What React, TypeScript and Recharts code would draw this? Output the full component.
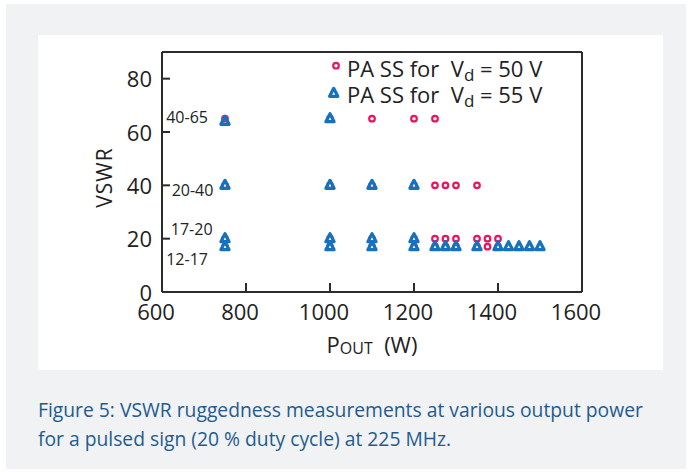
import React from 'react';
import { ScatterChart, Scatter, XAxis, YAxis, ReferenceLine, ReferenceDot, Legend } from 'recharts';

// VSWR levels tested, and the output powers that passed at each level
const vd50Row65 = [750, 1000, 1100, 1200, 1250];
const vd50Row40 = [750, 1000, 1100, 1200, 1250, 1275, 1300, 1350];
const vd50Row20 = [750, 1000, 1100, 1200, 1250, 1275, 1300, 1350, 1375, 1400];
const vd50Row17 = [750, 1000, 1100, 1200, 1250, 1275, 1300, 1350, 1375, 1400];

const vd55Row65 = [750, 1000];
const vd55Row40 = [750, 1000, 1100, 1200];
const vd55Row20 = [750, 1000, 1100, 1200];
const vd55Row17 = [750, 1000, 1100, 1200, 1250, 1275, 1300, 1350, 1400, 1425, 1450, 1475, 1500];

const vd50Points = [
  ...vd50Row65.map((p) => ({ p, v: 65 })),
  ...vd50Row40.map((p) => ({ p, v: 40 })),
  ...vd50Row20.map((p) => ({ p, v: 20 })),
  ...vd50Row17.map((p) => ({ p, v: 17 })),
];
const vd55Points = [
  ...vd55Row65.map((p) => ({ p, v: p === 750 ? 64 : 65 })),
  ...vd55Row40.map((p) => ({ p, v: 40 })),
  ...vd55Row20.map((p) => ({ p, v: 20 })),
  ...vd55Row17.map((p) => ({ p, v: 17 })),
];

const xTicks = [600, 800, 1000, 1200, 1400, 1600];
const yTicks = [0, 20, 40, 60, 80];

// range annotations (text baseline, in data units)
const rangeLabels = ['40-65', '20-40', '17-20', '12-17'];
const rangeLabelP = [610, 623, 621, 610];
const rangeLabelV = [63.2, 35.9, 21.5, 10.0];

const RED = '#e6175f';
const BLUE = '#1672bd';
const INK = '#2b2b2b';
const FONT = '"Open Sans", "Liberation Sans", sans-serif';

const CircleMark = (props: any) => {
  const { cx, cy } = props;
  return <circle cx={cx} cy={cy} r={2.8} fill="none" stroke={RED} strokeWidth={2.2} />;
};

const TriangleMark = (props: any) => {
  const { cx, cy } = props;
  return (
    <path
      d={`M${cx},${cy - 5}L${cx + 4.1},${cy + 3}L${cx - 4.1},${cy + 3}Z`}
      fill="none"
      stroke={BLUE}
      strokeWidth={3.2}
      strokeLinejoin="round"
    />
  );
};

const renderLegend = (props: any) => {
  const payload = props.payload ?? [];
  return (
    <svg width={260} height={64} style={{ display: 'block', overflow: 'visible' }}>
      {payload.map((entry: any, i: number) => {
        const base = 26.7 + i * 26.6;
        return (
          <g key={entry.value}>
            {entry.value === '50' ? (
              <CircleMark cx={11} cy={base - 11} />
            ) : (
              <TriangleMark cx={8.7} cy={base - 10} />
            )}
            <text x={22} y={base} fontFamily={FONT} fontSize={22} fill="#222">
              {'PA SS for\u00a0\u00a0V'}
              <tspan fontSize={17} dy={4}>d</tspan>
              <tspan dy={-4}>{` = ${entry.value} V`}</tspan>
            </text>
          </g>
        );
      })}
    </svg>
  );
};

export default function App() {
  return (
    <div style={{ position: 'absolute', left: 0, top: 0, width: 689, height: 472, background: '#fff' }}>
      <div style={{ position: 'absolute', left: 6, top: 4, right: 3, bottom: 3, background: '#f1f2f4' }} />
      <div style={{ position: 'absolute', left: 38, top: 35, width: 625, height: 335, background: '#fff' }} />
      <div style={{ position: 'absolute', left: 0, top: 0 }}>
        <ScatterChart width={689} height={372} margin={{ top: 52, right: 107, bottom: 0, left: 0 }}>
          <XAxis
            type="number"
            dataKey="p"
            domain={[600, 1600]}
            ticks={xTicks}
            height={80}
            tickSize={-9}
            tickMargin={21.5}
            axisLine={{ stroke: INK, strokeWidth: 2 }}
            tickLine={{ stroke: INK, strokeWidth: 2 }}
            tick={{ fontFamily: FONT, fontSize: 22, fill: '#222', dx: -6 }}
            label={(props: any) => {
              const vb = props.viewBox;
              return (
                <text x={vb.x + vb.width / 2} y={vb.y + 61} textAnchor="middle" fontFamily={FONT} fontSize={22} fill="#222">
                  P<tspan fontSize={16} dy={0.5}>OUT</tspan>
                  <tspan dy={-0.5}>{'\u00a0\u00a0(W)'}</tspan>
                </text>
              );
            }}
          />
          <YAxis
            type="number"
            dataKey="v"
            domain={[0, 90]}
            ticks={yTicks}
            width={162}
            tickSize={-8}
            tickMargin={18}
            axisLine={{ stroke: INK, strokeWidth: 2 }}
            tickLine={{ stroke: INK, strokeWidth: 2 }}
            tick={{ fontFamily: FONT, fontSize: 22, fill: '#222', dy: 1 }}
            label={(props: any) => {
              const vb = props.viewBox;
              const x = vb.x + 111.7;
              const y = vb.y + vb.height / 2 + 5.5;
              return (
                <text x={x} y={y} transform={`rotate(-90 ${x} ${y})`} textAnchor="middle" fontFamily={FONT} fontSize={21} letterSpacing={1} fill="#222">
                  VSWR
                </text>
              );
            }}
          />
          <ReferenceLine y={90} stroke={INK} strokeWidth={2} />
          <ReferenceLine x={1600} stroke={INK} strokeWidth={2} />
          {rangeLabels.map((t, i) => (
            <ReferenceDot
              key={t}
              x={rangeLabelP[i]}
              y={rangeLabelV[i]}
              r={0}
              fill="none"
              stroke="none"
              label={(props: any) => (
                <text x={props.viewBox.x} y={props.viewBox.y} fontFamily={FONT} fontSize={16} fill="#222">
                  {t}
                </text>
              )}
            />
          ))}
          <Scatter name="50" data={vd50Points} fill={RED} shape={CircleMark} isAnimationActive={false} />
          <Scatter name="55" data={vd55Points} fill={BLUE} shape={TriangleMark} isAnimationActive={false} />
          <Legend
            layout="vertical"
            align="center"
            verticalAlign="middle"
            content={renderLegend}
            wrapperStyle={{ top: 50, left: 325, width: 260, height: 64 }}
          />
        </ScatterChart>
      </div>
      <div
        style={{
          position: 'absolute',
          left: 38,
          top: 395,
          width: 645,
          fontFamily: FONT,
          fontSize: 19.3,
          lineHeight: '29px',
          color: '#1f5b8e',
          whiteSpace: 'nowrap',
        }}
      >
        Figure 5: VSWR ruggedness measurements at various output power
        <br />
        for a pulsed sign (20 % duty cycle) at 225 MHz.
      </div>
    </div>
  );
}
